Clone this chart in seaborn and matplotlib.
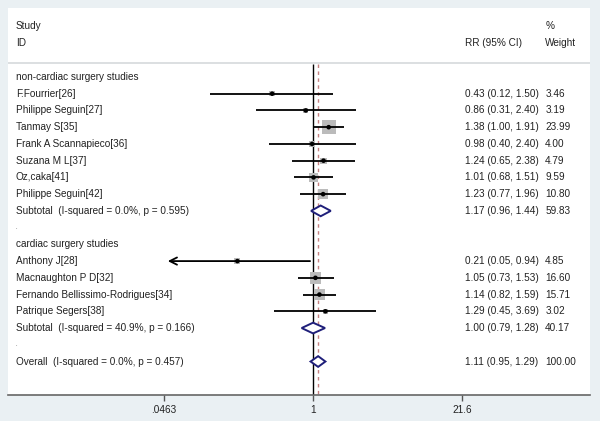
import numpy as np
import pandas as pd
import seaborn as sns
import matplotlib.pyplot as plt
from matplotlib.patches import Polygon
from matplotlib.transforms import blended_transform_factory

# study level data
nc_names = ["F.Fourrier[26]", "Philippe Seguin[27]", "Tanmay S[35]", "Frank A Scannapieco[36]",
            "Suzana M L[37]", "Oz,caka[41]", "Philippe Seguin[42]"]
nc_rr = [0.43, 0.86, 1.38, 0.98, 1.24, 1.01, 1.23]
nc_lo = [0.12, 0.31, 1.00, 0.40, 0.65, 0.68, 0.77]
nc_hi = [1.50, 2.40, 1.91, 2.40, 2.38, 1.51, 1.96]
nc_w = [3.46, 3.19, 23.99, 4.00, 4.79, 9.59, 10.80]

c_names = ["Anthony J[28]", "Macnaughton P D[32]", "Fernando Bellissimo-Rodrigues[34]", "Patrique Segers[38]"]
c_rr = [0.21, 1.05, 1.14, 1.29]
c_lo = [0.05, 0.73, 0.82, 0.45]
c_hi = [0.94, 1.53, 1.59, 3.69]
c_w = [4.85, 16.60, 15.71, 3.02]

# pooled estimates
pooled_labels = ["Subtotal  (I-squared = 0.0%, p = 0.595)",
                 "Subtotal  (I-squared = 40.9%, p = 0.166)",
                 "Overall  (I-squared = 0.0%, p = 0.457)"]
pooled_rr = [1.17, 1.00, 1.11]
pooled_lo = [0.96, 0.79, 0.95]
pooled_hi = [1.44, 1.28, 1.29]
pooled_w = [59.83, 40.17, 100.00]

tick_vals = [0.0463, 1, 21.6]
tick_labels = [".0463", "1", "21.6"]

# build the row table (top to bottom)
rows = []
rows.append(dict(label="non-cardiac surgery studies", kind="head"))
for n, r, l, h, w in zip(nc_names, nc_rr, nc_lo, nc_hi, nc_w):
    rows.append(dict(label=n, kind="study", rr=r, lo=l, hi=h, w=w))
rows.append(dict(label=pooled_labels[0], kind="pool", rr=pooled_rr[0], lo=pooled_lo[0], hi=pooled_hi[0], w=pooled_w[0]))
rows.append(dict(label=".", kind="dot"))
rows.append(dict(label="cardiac surgery studies", kind="head"))
for n, r, l, h, w in zip(c_names, c_rr, c_lo, c_hi, c_w):
    rows.append(dict(label=n, kind="study", rr=r, lo=l, hi=h, w=w))
rows.append(dict(label=pooled_labels[1], kind="pool", rr=pooled_rr[1], lo=pooled_lo[1], hi=pooled_hi[1], w=pooled_w[1]))
rows.append(dict(label=".", kind="dot"))
rows.append(dict(label=pooled_labels[2], kind="pool", rr=pooled_rr[2], lo=pooled_lo[2], hi=pooled_hi[2], w=pooled_w[2]))
df = pd.DataFrame(rows)
df["row"] = np.arange(len(df))

sns.set_style("white")
plt.rcParams["font.family"] = ["Liberation Sans", "DejaVu Sans"]

fig = plt.figure(figsize=(6, 4.21), dpi=100, facecolor="#eaf0f3")
ax = fig.add_axes([8 / 600, 1 - 395 / 421, 582 / 600, 387 / 421])
ax.set_facecolor("white")
ax.set_xscale("log")
ax.set_xlim(np.exp(-6.29), np.exp(5.71))
ax.set_ylim(19, -4.12)

txt = "#222222"
studies = df[df.kind == "study"]

# weight boxes
sns.scatterplot(data=studies, x="rr", y="row", size="w", sizes=(0, 100), size_norm=(0, 23.99),
                marker="s", color="#bbbbbb", edgecolor="none", legend=False, ax=ax, zorder=2)

# confidence intervals
for _, s in studies.iterrows():
    if s.lo < 0.0463 * 1.2:
        ax.annotate("", xy=(s.lo, s.row), xytext=(s.hi, s.row),
                    arrowprops=dict(arrowstyle="->", lw=1.3, color="black", shrinkA=0, shrinkB=0,
                                    mutation_scale=13), zorder=3)
    else:
        ax.hlines(s.row, s.lo, s.hi, color="black", lw=1.3, zorder=3)

sns.scatterplot(data=studies, x="rr", y="row", color="black", s=11, edgecolor="none",
                legend=False, ax=ax, zorder=4)

# reference lines
ax.vlines(1, -0.78, 19, color="black", lw=1, zorder=1)
ax.vlines(pooled_rr[2], -0.78, 19, color="#c48080", lw=1, linestyles=(0, (2.5, 2.5)), zorder=1)

# diamonds
for _, p in df[df.kind == "pool"].iterrows():
    d = Polygon([(p.lo, p.row), (p.rr, p.row - 0.32), (p.hi, p.row), (p.rr, p.row + 0.32)],
                closed=True, facecolor="white", edgecolor="#1f1f7a", lw=1.4, zorder=5)
    ax.add_patch(d)

# header separator
ax.axhline(-0.84, color="#d5d9dc", lw=1.2)

# text columns
tr = blended_transform_factory(ax.transAxes, ax.transData)
fs = 7.2
ax.text(0.0137, -3.04, "Study", transform=tr, fontsize=fs, color=txt, va="center")
ax.text(0.0137, -2.03, "ID", transform=tr, fontsize=fs, color=txt, va="center")
ax.text(0.785, -2.03, "RR (95% CI)", transform=tr, fontsize=fs, color=txt, va="center")
ax.text(0.923, -3.04, "%", transform=tr, fontsize=fs, color=txt, va="center")
ax.text(0.923, -2.03, "Weight", transform=tr, fontsize=fs, color=txt, va="center")

for _, r in df.iterrows():
    lab_fs = 4 if r.kind == "dot" else fs
    ax.text(0.0137, r.row, r.label, transform=tr, fontsize=lab_fs, color=txt, va="center")
    if r.kind in ("study", "pool"):
        ax.text(0.785, r.row, f"{r.rr:.2f} ({r.lo:.2f}, {r.hi:.2f})", transform=tr,
                fontsize=fs, color=txt, va="center")
        ax.text(0.923, r.row, f"{r.w:.2f}", transform=tr, fontsize=fs, color=txt, va="center")

# axis styling
ax.set_xticks(tick_vals)
ax.set_xticklabels(tick_labels)
ax.xaxis.set_minor_locator(plt.NullLocator())
ax.tick_params(axis="x", length=4, width=1, color="#555555", labelsize=fs, labelcolor=txt, pad=3,
               bottom=True)
ax.set_yticks([])
ax.set_xlabel("")
ax.set_ylabel("")
for side in ["top", "right", "left"]:
    ax.spines[side].set_visible(False)
ax.spines["bottom"].set_color("#666666")
ax.spines["bottom"].set_linewidth(1.2)

fig.savefig("out.png", dpi=100, facecolor=fig.get_facecolor())
